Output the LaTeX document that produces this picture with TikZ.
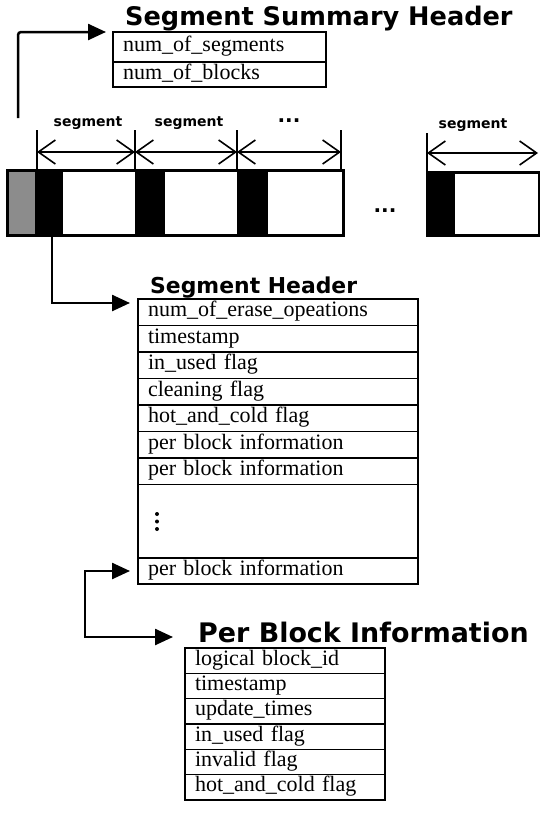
\documentclass[tikz,border=0pt]{standalone}
\usepackage{fontspec}
\setmainfont{Liberation Serif}
\newfontfamily\headfont{DejaVu Sans}
\usetikzlibrary{arrows.meta}

\tikzset{
  field/.style={draw, line width=1.2pt, anchor=north west, outer sep=0pt,
    inner xsep=10pt, inner ysep=0pt, text height=14pt, text depth=5pt,
    align=left, font=\fontsize{22}{24}\selectfont},
  heading/.style={anchor=base west, inner sep=0pt,
    font=\headfont\bfseries\fontsize{#1}{#1}\selectfont},
  seglabel/.style={inner sep=0pt, font=\headfont\bfseries\fontsize{14}{16}\selectfont},
  link/.style={line width=2.5pt, -{Triangle[length=18pt,width=16pt]}},
  dim/.style={line width=1.6pt,
    {Straight Barb[length=17pt,width=24pt]}-{Straight Barb[length=17pt,width=24pt]}},
}

\begin{document}
\begin{tikzpicture}[x=1pt, y=-1pt]
    \useasboundingbox (0,0) rectangle (540,814);

    % segment summary header
    \node[heading=25.6] (sumtitle) at (125,25) {Segment Summary Header};
    \node[field, text width=193pt, minimum height=30pt] (sum1) at (113,32) {num\_of\_segments};
    \node[field, text width=193pt, minimum height=25pt] (sum2) at (113,62) {num\_of\_blocks};

    % the disk, cut into segments
    \fill[black!45] (7,170) rectangle (35,235);
    \fill (35,170) rectangle (63,235);
    \fill (135,170) rectangle (165,235);
    \fill (237,170) rectangle (268,235);
    \draw[line width=3pt] (7,170) rectangle (343,235);
    \fill (427,172) rectangle (455,235);
    \draw[line width=3pt] (427,172) rectangle (539,235);
    \node[seglabel, font=\headfont\bfseries\fontsize{20}{20}\selectfont] (gap) at (385,211) {...};

    % segment widths
    \coordinate (d1) at (37,152);
    \coordinate (d2) at (135,152);
    \coordinate (d3) at (237,152);
    \coordinate (d4) at (341,152);
    \coordinate (d5) at (427,153);
    \coordinate (d6) at (538,153);
    \draw[line width=1.4pt] (37,130) -- (37,170);
    \draw[line width=1.4pt] (135,130) -- (135,170);
    \draw[line width=1.4pt] (237,130) -- (237,170);
    \draw[line width=1.4pt] (341,130) -- (341,170);
    \draw[line width=1.4pt] (427,133) -- (427,172);
    \draw[dim] (d1) -- (d2);
    \draw[dim] (d2) -- (d3);
    \draw[dim] (d3) -- (d4);
    \draw[dim] (d5) -- (d6);
    \node[seglabel] (lab1) at (88,123) {segment};
    \node[seglabel] (lab2) at (189,123) {segment};
    \node[seglabel, font=\headfont\bfseries\fontsize{20}{20}\selectfont] (lab3) at (289,121) {...};
    \node[seglabel] (lab4) at (473,125) {segment};

    % segment header
    \node[heading=21.9] (hdtitle) at (150,293) {Segment Header};
    \node[field, text width=260pt, minimum height=26.5pt] (hd1) at (138,299) {num\_of\_erase\_opeations};
    \node[field, text width=260pt, minimum height=26.5pt] (hd2) at (138,325.5) {timestamp};
    \node[field, text width=260pt, minimum height=26.5pt] (hd3) at (138,352) {in\_used flag};
    \node[field, text width=260pt, minimum height=26.5pt] (hd4) at (138,378.5) {cleaning flag};
    \node[field, text width=260pt, minimum height=26.5pt] (hd5) at (138,405) {hot\_and\_cold flag};
    \node[field, text width=260pt, minimum height=26.5pt] (hd6) at (138,431.5) {per block information};
    \node[field, text width=260pt, minimum height=26.5pt] (hd7) at (138,458) {per block information};
    \node[field, text width=260pt, minimum height=73.5pt] (hd8) at (138,484.5) {};
    \node[field, text width=260pt, minimum height=26pt] (hd9) at (138,558) {per block information};
    % the elided rows
    \fill (157,514) circle (2pt) (157,521.5) circle (2pt) (157,529) circle (2pt);

    % per block information
    \node[heading=26.9] (pbtitle) at (198,642) {Per Block Information};
    \node[field, text width=180pt, minimum height=25.33pt] (pb1) at (185,648) {logical block\_id};
    \node[field, text width=180pt, minimum height=25.33pt] (pb2) at (185,673.33) {timestamp};
    \node[field, text width=180pt, minimum height=25.33pt] (pb3) at (185,698.67) {update\_times};
    \node[field, text width=180pt, minimum height=25.33pt] (pb4) at (185,724) {in\_used flag};
    \node[field, text width=180pt, minimum height=25.33pt] (pb5) at (185,749.33) {invalid flag};
    \node[field, text width=180pt, minimum height=25.33pt] (pb6) at (185,774.67) {hot\_and\_cold flag};

    % links
    \coordinate (barup) at (18,118);
    \coordinate (bardown) at (52,237);
    \draw[link, rounded corners=3pt] (barup) |- ([xshift=-7pt]sum1.north west);
    \draw[link] (bardown) |- ([xshift=-8pt,yshift=-4pt]hd1.north west);
    \draw[link, {Triangle[length=18pt,width=16pt]}-{Triangle[length=18pt,width=16pt]}]
        ([xshift=-8pt]hd9.west) -- ++(-45,0) |- ([xshift=-12pt,yshift=11pt]pb1.north west);
\end{tikzpicture}
\end{document}
